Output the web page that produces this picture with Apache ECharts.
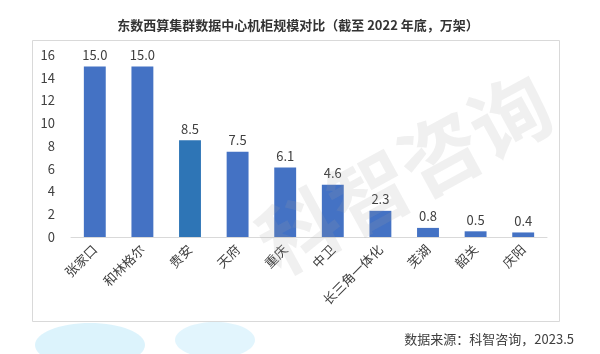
<!DOCTYPE html>
<html>
<head>
<meta charset="utf-8">
<script src="https://cdn.jsdelivr.net/npm/echarts@6/dist/echarts.min.js"></script>
<style>
html,body{margin:0;padding:0;background:#fff;}
#chart{width:600px;height:354px;}
</style>
</head>
<body>
<div id="chart"></div>
<script>
const categories = ['张家口','和林格尔','贵安','天府','重庆','中卫','长三角一体化','芜湖','韶关','庆阳'];
const values = [15.0, 15.0, 8.5, 7.5, 6.1, 4.6, 2.3, 0.8, 0.5, 0.4];
const yTicks = [0, 2, 4, 6, 8, 10, 12, 14, 16];
const titleText = '东数西算集群数据中心机柜规模对比（截至 2022 年底，万架）';
const sourceText = '数据来源：科智咨询，2023.5';

const FONT = '"Noto Sans CJK SC", "Noto Sans", sans-serif';
const chart = echarts.init(document.getElementById('chart'));
chart.setOption({
  animation: false,
  backgroundColor: '#ffffff',
  textStyle: { fontFamily: FONT },
  title: {
    text: titleText,
    left: 293, top: 14, textAlign: 'center',
    textStyle: { fontSize: 13, fontWeight: 'bold', color: '#333333', fontFamily: FONT }
  },
  grid: { left: 71, right: 53, top: 55, bottom: 117 },
  xAxis: {
    type: 'category',
    data: categories,
    axisLine: { lineStyle: { color: '#d9d9d9', width: 1 } },
    axisTick: { show: false },
    axisLabel: { rotate: 45, interval: 0, margin: 10, fontSize: 13, color: '#404040', fontFamily: FONT }
  },
  yAxis: {
    type: 'value',
    min: yTicks[0], max: yTicks[yTicks.length - 1], interval: 2,
    axisLine: { show: false },
    axisTick: { show: false },
    splitLine: { show: false },
    axisLabel: { margin: 16, fontSize: 13, color: '#404040', fontFamily: FONT }
  },
  series: [{
    type: 'bar',
    data: values.map((v, i) => ({ value: v, itemStyle: { color: categories[i] === '贵安' ? '#2E75B6' : '#4472C4' } })),
    barWidth: '46%',
    label: {
      show: true, position: 'top', distance: 5,
      fontSize: 13, color: '#404040', fontFamily: FONT,
      formatter: p => p.value.toFixed(1)
    }
  }],
  graphic: [
    { type: 'ellipse', shape: { cx: 90, cy: 345, rx: 55, ry: 22 }, style: { fill: 'rgba(60,190,240,0.18)' }, z: -2 },
    { type: 'ellipse', shape: { cx: 215, cy: 340, rx: 40, ry: 18 }, style: { fill: 'rgba(60,190,240,0.15)' }, z: -2 },
    { type: 'rect', shape: { x: 32.5, y: 40.5, width: 527, height: 281 }, style: { fill: 'none', stroke: '#d9d9d9', lineWidth: 1 }, z: -1 },
    { type: 'text', right: 26, top: 333, style: { text: sourceText, font: '13px ' + FONT, fill: '#404040' } },
    { type: 'text', x: 245, y: 215, rotation: 0.5, style: { text: '科智咨询', font: 'bold 80px ' + FONT, fill: 'rgba(160,160,160,0.16)' }, z: 100 }
  ]
});
</script>
</body>
</html>
